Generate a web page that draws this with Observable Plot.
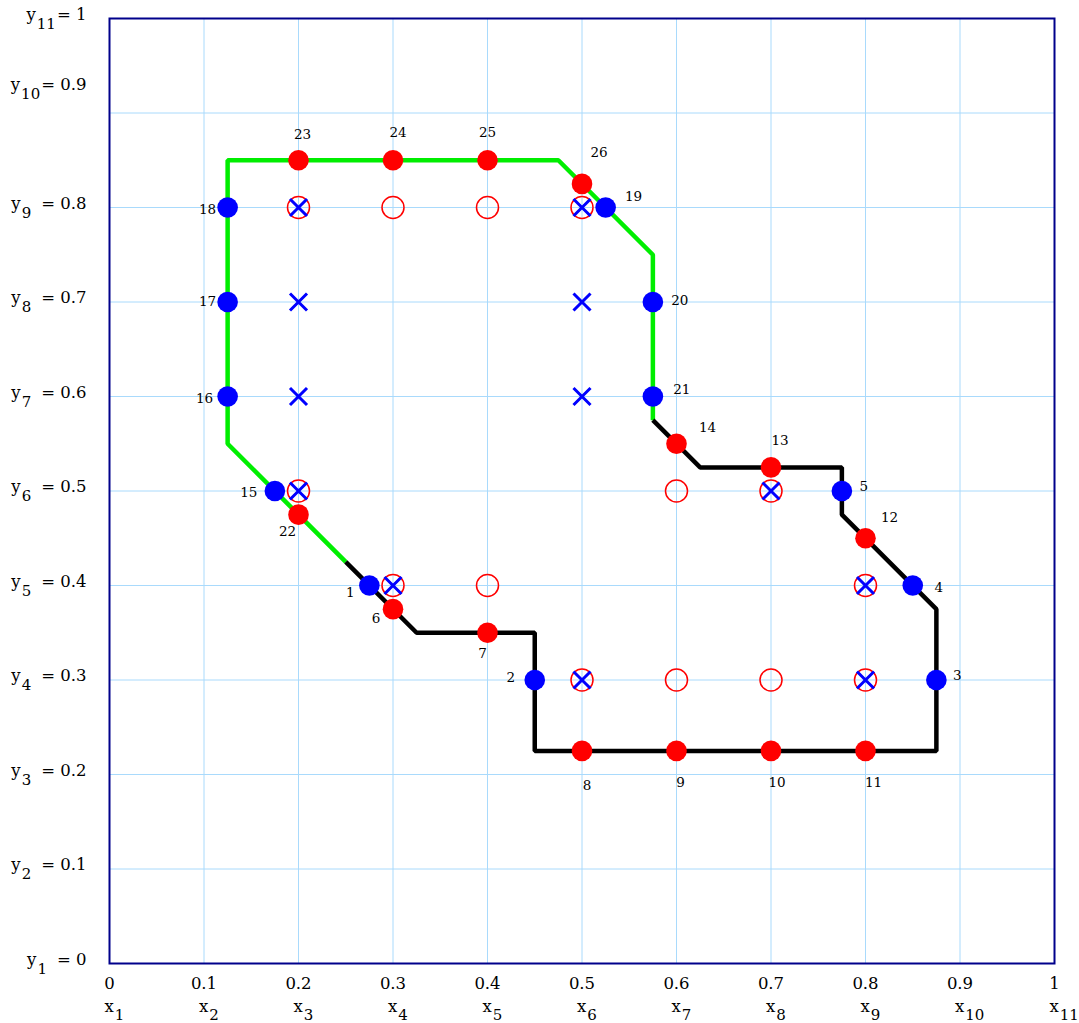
<!DOCTYPE html>
<html>
<head>
<meta charset="utf-8">
<script src="https://cdn.jsdelivr.net/npm/d3@7"></script>
<script src="https://cdn.jsdelivr.net/npm/@observablehq/plot@0.6"></script>
<style>
  html, body { margin: 0; padding: 0; background: #fff; }
</style>
</head>
<body>
<div id="chart"></div>
<script>
// ---- axis ticks ----
const ticks = [0, 0.1, 0.2, 0.3, 0.4, 0.5, 0.6, 0.7, 0.8, 0.9, 1];
const tickText = ["0", "0.1", "0.2", "0.3", "0.4", "0.5", "0.6", "0.7", "0.8", "0.9", "1"];
const xSubs = ["1", "2", "3", "4", "5", "6", "7", "8", "9", "10", "11"];
const ySubs = ["1", "2", "3", "4", "5", "6", "7", "8", "9", "10", "11"];
const gridTicks = [0.1, 0.2, 0.3, 0.4, 0.5, 0.6, 0.7, 0.8, 0.9];

// ---- boundary paths ----
const blackPathX = [0.25, 0.325, 0.45, 0.45, 0.875, 0.875, 0.775, 0.775, 0.625, 0.575];
const blackPathY = [0.425, 0.35, 0.35, 0.225, 0.225, 0.375, 0.475, 0.525, 0.525, 0.575];
const greenPathX = [0.575, 0.575, 0.475, 0.125, 0.125, 0.25];
const greenPathY = [0.575, 0.75, 0.85, 0.85, 0.55, 0.425];

// ---- blue filled points ----
const blueLabels = ["1", "2", "3", "4", "5", "15", "16", "17", "18", "19", "20", "21"];
const blueX = [0.275, 0.45, 0.875, 0.85, 0.775, 0.175, 0.125, 0.125, 0.125, 0.525, 0.575, 0.575];
const blueY = [0.4, 0.3, 0.3, 0.4, 0.5, 0.5, 0.6, 0.7, 0.8, 0.8, 0.7, 0.6];

// ---- red filled points ----
const redLabels = ["6", "7", "8", "9", "10", "11", "12", "13", "14", "22", "23", "24", "25", "26"];
const redX = [0.3, 0.4, 0.5, 0.6, 0.7, 0.8, 0.8, 0.7, 0.6, 0.2, 0.2, 0.3, 0.4, 0.5];
const redY = [0.375, 0.35, 0.225, 0.225, 0.225, 0.225, 0.45, 0.525, 0.55, 0.475, 0.85, 0.85, 0.85, 0.825];

// ---- red open circles ----
const openX = [0.2, 0.3, 0.4, 0.5, 0.2, 0.3, 0.4, 0.6, 0.7, 0.8, 0.5, 0.6, 0.7, 0.8];
const openY = [0.8, 0.8, 0.8, 0.8, 0.5, 0.4, 0.4, 0.5, 0.5, 0.4, 0.3, 0.3, 0.3, 0.3];

// ---- blue crosses ----
const crossX = [0.2, 0.5, 0.2, 0.5, 0.2, 0.5, 0.2, 0.3, 0.7, 0.8, 0.5, 0.8];
const crossY = [0.8, 0.8, 0.7, 0.7, 0.6, 0.6, 0.5, 0.4, 0.5, 0.4, 0.3, 0.3];

// ---- label offsets (px, styling only) ----
const blueLabelOffsets = [[-19, 7], [-24, -2], [21, -4], [26, 2], [22, -4], [-26, 2], [-23, 2], [-20, 0], [-20, 2], [28, -11], [27, -1], [29, -7]];
const redLabelOffsets = [[-17, 10], [-5, 21], [5, 35], [4, 32], [6, 32], [8, 32], [24, -21], [9, -27], [31, -16], [-11, 17], [4, -26], [5, -28], [0, -28], [17, -31]];
const yLabelNudge = [0, 0, 0, 0, 0, 0, 0, 0, 0, -24, 0];

const toXY = (xs, ys) => xs.map((x, i) => ({x, y: ys[i]}));
const blackPath = toXY(blackPathX, blackPathY);
const greenPath = toXY(greenPathX, greenPathY);
const blue = blueX.map((x, i) => ({x, y: blueY[i], label: blueLabels[i]}));
const red = redX.map((x, i) => ({x, y: redY[i], label: redLabels[i]}));
const open = toXY(openX, openY);
const cross = toXY(crossX, crossY);

const gridColor = "#a9dafc";
const labelMarks = [
  ...blue.map((d, i) => Plot.text([d], {x: "x", y: "y", text: "label", dx: blueLabelOffsets[i][0], dy: blueLabelOffsets[i][1], fontSize: 13.5, fill: "black", textAnchor: "middle"})),
  ...red.map((d, i) => Plot.text([d], {x: "x", y: "y", text: "label", dx: redLabelOffsets[i][0], dy: redLabelOffsets[i][1], fontSize: 13.5, fill: "black", textAnchor: "middle"}))
];

const chart = Plot.plot({
  width: 1079,
  height: 1023,
  marginLeft: 109,
  marginRight: 25,
  marginTop: 18,
  marginBottom: 60,
  x: {domain: [0, 1]},
  y: {domain: [0, 1]},
  style: {fontFamily: "'DejaVu Serif', serif", fontSize: "16px", background: "white", color: "black", overflow: "visible"},
  marks: [
    Plot.gridX(gridTicks, {stroke: gridColor, strokeOpacity: 1, strokeWidth: 1}),
    Plot.gridY(gridTicks, {stroke: gridColor, strokeOpacity: 1, strokeWidth: 1}),
    Plot.axisX(ticks, {tickSize: 0, tickPadding: 14, tickFormat: d => tickText[ticks.indexOf(d)], fontSize: 16.5, fill: "black", label: null}),
    Plot.axisX(ticks, {tickSize: 0, tickPadding: 37, tickFormat: d => "x_" + xSubs[ticks.indexOf(d)], fontSize: 16.5, fill: "black", label: null}),
    Plot.axisY(ticks, {tickSize: 0, tickPadding: 23, dy: -4, tickFormat: d => { const i = ticks.indexOf(d); return "y_" + ySubs[i] + "_= " + tickText[i] + "_" + i; }, fontSize: 16.5, fill: "black", label: null}),
    Plot.line(greenPath, {x: "x", y: "y", stroke: "#00ee00", strokeWidth: 4.5, strokeLinejoin: "miter", strokeLinecap: "butt"}),
    Plot.line(blackPath, {x: "x", y: "y", stroke: "black", strokeWidth: 4.5, strokeLinejoin: "miter", strokeLinecap: "butt"}),
    Plot.dot(open, {x: "x", y: "y", r: 11, stroke: "red", strokeWidth: 1.5, fill: "none"}),
    Plot.dot(cross, {x: "x", y: "y", r: 7.8, symbol: "times", stroke: "blue", strokeWidth: 3, fill: "none"}),
    Plot.dot(red, {x: "x", y: "y", r: 10.3, fill: "red", stroke: "none"}),
    Plot.dot(blue, {x: "x", y: "y", r: 10.3, fill: "blue", stroke: "none"}),
    ...labelMarks,
    Plot.frame({stroke: "#00008b", strokeWidth: 2})
  ]
});

// turn "y_10_= 0.9_i" / "x_1" tick labels into subscripted text
const NS = "http://www.w3.org/2000/svg";
function tspan(parent, txt, attrs) {
  const t = document.createElementNS(NS, "tspan");
  t.textContent = txt;
  for (const k in attrs) t.setAttribute(k, attrs[k]);
  parent.appendChild(t);
  return t;
}
chart.querySelectorAll("text").forEach(t => {
  const s = t.textContent;
  if (/^y_/.test(s)) {
    const [, sub, rest, idx] = s.split("_");
    t.textContent = "";
    tspan(t, "y", {});
    tspan(t, sub, {"font-size": 15, dy: 9, dx: 1});
    tspan(t, rest, {dy: -9, dx: sub.length === 1 ? 10 : 1});
    const n = yLabelNudge[+idx];
    if (n) {
      const tr = t.getAttribute("transform") || "";
      t.setAttribute("transform", tr + ` translate(0,${n})`);
    }
  } else if (/^x_/.test(s)) {
    const [, sub] = s.split("_");
    t.textContent = "";
    t.setAttribute("text-anchor", "start");
    tspan(t, "x", {dx: -5});
    tspan(t, sub, {"font-size": 15, dy: 8, dx: 1});
  }
});

document.getElementById("chart").appendChild(chart);
</script>
</body>
</html>
